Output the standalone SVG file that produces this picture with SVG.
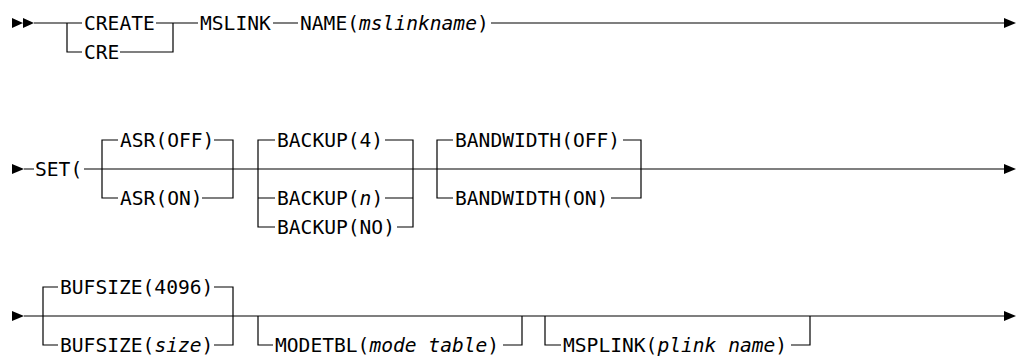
<svg xmlns="http://www.w3.org/2000/svg" width="1021" height="356" viewBox="0 0 1021 356">
<style>
.t{font-family:"DejaVu Sans Mono","Liberation Mono",monospace;font-size:19.6px;fill:#000}
.v{font-style:italic}
.c{fill:none;stroke:#000;stroke-width:1.2}
.a{fill:#000;stroke:none}
</style>
<rect width="1021" height="356" fill="#fff"/>
<g id="connectors">
<!-- row 1 -->
<path class="a" d="M12,18 L23,23 L12,28 Z M23,18 L34,23 L23,28 Z"/>
<path class="c" d="M34,23 H82 M67,23 V52 H82 M156,23 H198 M120,52 H173 V23 M273,23 H298 M491,23 H1005"/>
<path class="a" d="M1004,18 L1016,23 L1004,28 Z"/>
<!-- row 2 -->
<path class="a" d="M12,164 L24,169 L12,174 Z"/>
<path class="c" d="M24,169 H34 M84,169 H1005"/>
<path class="c" d="M118,140 H102 V198 H118 M214,140 H233 V198 H202"/>
<path class="c" d="M275,140 H258 V227 H275 M258,198 H275 M385,140 H413 V227 H397 M385,198 H413"/>
<path class="c" d="M453,140 H437 V198 H453 M623,140 H641 V198 H611"/>
<path class="a" d="M1004,164 L1016,169 L1004,174 Z"/>
<!-- row 3 -->
<path class="a" d="M12,311 L24,316 L12,321 Z"/>
<path class="c" d="M24,316 H1005"/>
<path class="c" d="M58,287 H43 V345 H58 M214,287 H233 V345 H214"/>
<path class="c" d="M258,316 V345 H273 M503,345 H522 V316"/>
<path class="c" d="M545,316 V345 H561 M791,345 H810 V316"/>
<path class="a" d="M1004,311 L1016,316 L1004,321 Z"/>
</g>
<g id="n-create"><text class="t" x="84" y="30">CREATE</text></g>
<g id="n-cre"><text class="t" x="84" y="59">CRE</text></g>
<g id="n-mslink"><text class="t" x="200" y="30">MSLINK</text></g>
<g id="n-name"><text class="t" x="300" y="30">NAME(<tspan class="v">mslinkname</tspan>)</text></g>
<g id="n-set"><text class="t" x="35" y="176">SET(</text></g>
<g id="n-asr-off"><text class="t" x="120" y="147">ASR(OFF)</text></g>
<g id="n-asr-on"><text class="t" x="120" y="205">ASR(ON)</text></g>
<g id="n-backup-4"><text class="t" x="277" y="147">BACKUP(4)</text></g>
<g id="n-backup-n"><text class="t" x="277" y="205">BACKUP(<tspan class="v">n</tspan>)</text></g>
<g id="n-backup-no"><text class="t" x="277" y="234">BACKUP(NO)</text></g>
<g id="n-bw-off"><text class="t" x="455" y="147">BANDWIDTH(OFF)</text></g>
<g id="n-bw-on"><text class="t" x="455" y="205">BANDWIDTH(ON)</text></g>
<g id="n-bufsize-4096"><text class="t" x="60" y="294">BUFSIZE(4096)</text></g>
<g id="n-bufsize-size"><text class="t" x="60" y="352">BUFSIZE(<tspan class="v">size</tspan>)</text></g>
<g id="n-modetbl"><text class="t" x="275" y="352">MODETBL(<tspan class="v">mode table</tspan>)</text></g>
<g id="n-msplink"><text class="t" x="563" y="352">MSPLINK(<tspan class="v">plink name</tspan>)</text></g>
</svg>
